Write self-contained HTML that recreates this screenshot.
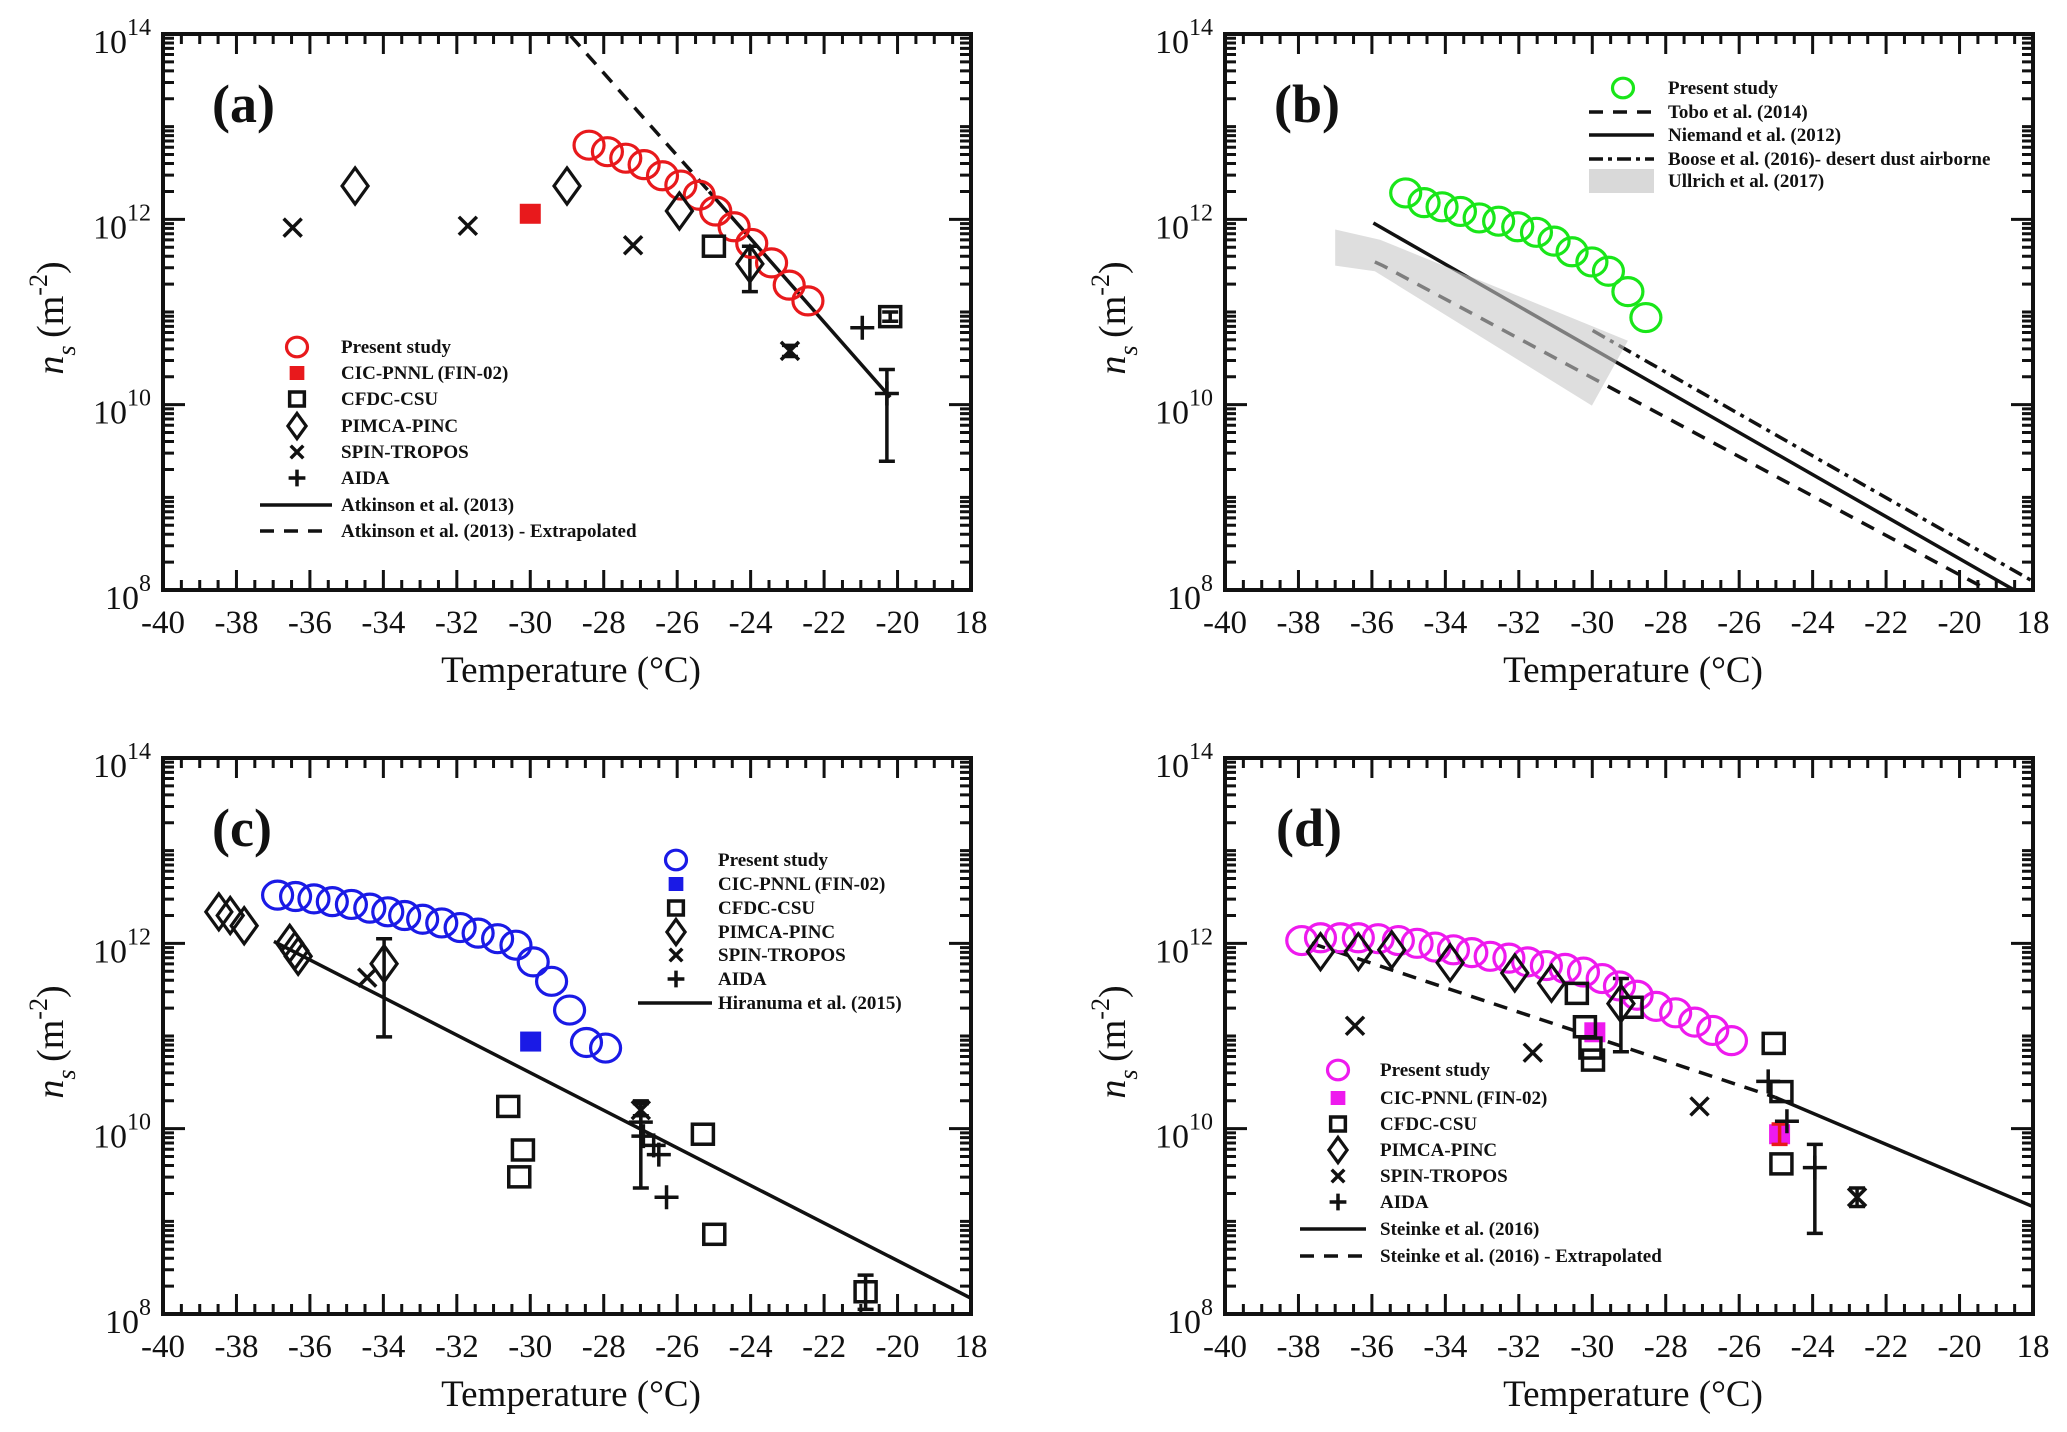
<!DOCTYPE html>
<html><head><meta charset="utf-8"><style>
html,body{margin:0;padding:0;background:#fff;}
svg{display:block;font-family:"Liberation Serif",serif;}
</style></head><body>
<svg id="fig" width="2067" height="1432" viewBox="0 0 2067 1432" xmlns="http://www.w3.org/2000/svg"></svg>
<script>
// ---------- data (temperatures in °C, values as log10(ns / m^-2)) ----------
const xTicks=[-40,-38,-36,-34,-32,-30,-28,-26,-24,-22,-20,-18];
const xTickLabels=["-40","-38","-36","-34","-32","-30","-28","-26","-24","-22","-20","18"];
const yTicks=[8,10,12,14];

// Panel a
const aPresentT=[-28.4,-27.9,-27.4,-26.9,-26.4,-25.9,-25.4,-24.95,-24.45,-23.97,-23.43,-22.95,-22.44];
const aPresentN=[12.80,12.73,12.66,12.59,12.47,12.37,12.26,12.09,11.92,11.74,11.53,11.29,11.12];
const aCicT=[-30.0]; const aCicN=[12.06];
const aCfdcT=[-25.0,-20.2]; const aCfdcN=[11.71,10.95];
const aPimcaT=[-34.77,-29.0,-25.94,-24.02]; const aPimcaN=[12.36,12.36,12.09,11.52];
const aSpinT=[-36.47,-31.7,-27.2,-22.93]; const aSpinN=[11.91,11.93,11.72,10.58];
const aAidaT=[-20.96,-20.29]; const aAidaN=[10.83,10.12];
const aErrT=[-24.02,-20.29,-22.93,-20.2,-30.0]; const aErrLo=[11.22,9.39,10.52,10.90,12.0]; const aErrHi=[11.71,10.38,10.64,11.0,12.1];
const aAtkT=[-25.13,-20.2]; const aAtkN=[12.30,10.08];
const aAtkExtT=[-28.9,-25.13]; const aAtkExtN=[13.98,12.30];

// Panel b
const bPresentT=[-35.08,-34.58,-34.09,-33.59,-33.08,-32.55,-32.03,-31.52,-31.04,-30.55,-30.01,-29.56,-29.03,-28.54];
const bPresentN=[12.285,12.18,12.135,12.085,12.015,11.98,11.92,11.86,11.765,11.65,11.54,11.44,11.22,10.94];
const bToboT=[-35.92,-35.7,-19.18,-17.5]; const bToboN=[11.54,11.50,7.99,7.63];
const bNiemandT=[-35.96,-17.5]; const bNiemandN=[11.96,7.77];
const bBooseT=[-29.99,-17.5]; const bBooseN=[10.80,7.98];
const bUllrichT=[-37.0,-35.78,-29.03,-30.01,-35.92,-37.0]; const bUllrichN=[11.89,11.78,10.69,9.99,11.44,11.50];

// Panel c
const cPresentT=[-36.88,-36.39,-35.89,-35.39,-34.87,-34.37,-33.88,-33.42,-32.93,-32.41,-31.91,-31.42,-30.89,-30.39,-29.92,-29.42,-28.93,-28.47,-27.95];
const cPresentN=[12.52,12.505,12.48,12.45,12.42,12.38,12.34,12.30,12.26,12.22,12.17,12.11,12.05,11.98,11.80,11.59,11.28,10.93,10.87];
const cCicT=[-29.99]; const cCicN=[10.94];
const cCfdcT=[-30.6,-30.2,-30.3,-25.3,-24.99,-20.87]; const cCfdcN=[10.24,9.77,9.48,9.94,8.86,8.24];
const cPimcaT=[-38.48,-38.17,-37.79,-36.55,-36.41,-36.32,-33.98]; const cPimcaN=[12.34,12.30,12.19,12.0,11.92,11.86,11.78];
const cSpinT=[-34.44,-26.99]; const cSpinN=[11.63,10.20];
const cAidaT=[-26.99,-26.92,-26.64,-26.5,-26.29]; const cAidaN=[10.07,9.92,9.82,9.72,9.26];
const cErrT=[-33.98,-26.99,-26.99,-20.87]; const cErrLo=[10.99,9.36,10.14,8.05]; const cErrHi=[12.05,10.30,10.27,8.42];
const cHiraT=[-36.98,-17.95]; const cHiraN=[12.02,8.16];

// Panel d
const dPresentT=[-37.91,-37.40,-36.86,-36.37,-35.83,-35.28,-34.77,-34.28,-33.78,-33.28,-32.78,-32.27,-31.76,-31.25,-30.74,-30.24,-29.73,-29.26,-28.78,-28.26,-27.73,-27.21,-26.72,-26.21];
const dPresentN=[12.03,12.06,12.06,12.06,12.05,12.03,12.0,11.96,11.93,11.90,11.86,11.84,11.80,11.76,11.73,11.69,11.62,11.54,11.44,11.32,11.25,11.15,11.06,10.95];
const dCicT=[-29.93,-24.9]; const dCicN=[11.04,9.94];
const dCfdcT=[-30.42,-30.2,-30.05,-29.98,-28.93,-25.06,-24.85,-24.85]; const dCfdcN=[11.46,11.10,10.87,10.74,11.31,10.92,10.40,9.62];
const dPimcaT=[-37.40,-36.37,-35.46,-33.87,-32.11,-31.11,-29.22]; const dPimcaN=[11.91,11.91,11.93,11.79,11.68,11.57,11.35];
const dSpinT=[-36.46,-31.62,-27.08,-22.79]; const dSpinN=[11.11,10.82,10.24,9.26];
const dAidaT=[-25.21,-24.70,-23.94]; const dAidaN=[10.51,10.08,9.58];
const dErrT=[-29.22,-23.94,-22.79]; const dErrLo=[10.83,8.87,9.16]; const dErrHi=[11.62,9.83,9.36];
const dRedErrT=[-24.9]; const dRedErrLo=[9.83]; const dRedErrHi=[10.05];
const dSteinkeT=[-25.03,-17.95]; const dSteinkeN=[10.34,9.15];
const dSteinkeExtT=[-37.64,-25.03]; const dSteinkeExtN=[12.0,10.34];

// ---------- drawing ----------
const NS="http://www.w3.org/2000/svg";
const svg=document.getElementById('fig');
const W=808,H=556;
function el(tag,attrs,parent){const e=document.createElementNS(NS,tag);for(const k in attrs)e.setAttribute(k,attrs[k]);(parent||svg).appendChild(e);return e;}
function makeScales(x0,y0){return {sx:t=>x0+(t+40)/22*W, sy:l=>y0+(14-l)/6*H, x0:x0,y0:y0};}

function drawAxes(P,g,letter,lx){
  const {x0,y0,sx,sy}=P;
  let d='';
  for(let t=-40;t<=-18.001;t+=0.5){
    const x=sx(t); if(t===-40) continue;
    const major=Math.abs(t-Math.round(t))<1e-6 && Math.round(t)%2===0;
    const L=major?20:10;
    d+=`M${x},${y0+H}v${-L}M${x},${y0}v${L}`;
  }
  for(let dec=8;dec<14;dec++){
    for(let k=1;k<=9;k++){
      const l=dec+Math.log10(k); const y=sy(l);
      if(k===1 && dec===8) continue;
      const L=(k===1 && dec%2===0)?22:11;
      d+=`M${x0},${y}h${L}M${x0+W},${y}h${-L}`;
    }
  }
  const tk=el('path',{d:d,stroke:'#111','stroke-width':3,fill:'none'},g);
  
  
  const fr=el('rect',{x:x0,y:y0,width:W,height:H,fill:'none',stroke:'#111','stroke-width':4},g);
  
  
  xTicks.forEach((t,i)=>{
    const tx=el('text',{x:sx(t),y:y0+H+43,'font-size':33,'text-anchor':'middle',fill:'#111'},g);
    tx.textContent=xTickLabels[i];
    
    
  });
  yTicks.forEach(v=>{
    const y=sy(v);
    const tx=el('text',{x:x0-12,y:y+19,'font-size':34,'text-anchor':'end',fill:'#111'},g);
    const a=el('tspan',{},tx); a.textContent='10';
    const b=el('tspan',{'font-size':24,dy:-18}, tx); b.textContent=String(v);
    
    
  });
  const xl=el('text',{x:x0+W/2+4,y:y0+H+92,'font-size':37,'text-anchor':'middle',fill:'#111'},g);
  xl.textContent='Temperature (°C)';
  
  
  const yc=y0+H/2+6, xc=x0-100;
  const yl=el('text',{x:0,y:0,'font-size':38,'text-anchor':'middle',fill:'#111',transform:`translate(${xc},${yc}) rotate(-90)`},g);
  const n=el('tspan',{'font-style':'italic'},yl); n.textContent='n';
  const s=el('tspan',{'font-style':'italic','font-size':26,dy:12},yl); s.textContent='s';
  const m=el('tspan',{dy:-12},yl); m.textContent='\u2009(m';
  const e=el('tspan',{'font-size':26,dy:-16},yl); e.textContent='-2';
  const c=el('tspan',{dy:16},yl); c.textContent=')';
  
  
  const pl=el('text',{x:lx,y:y0+88,'font-size':54,'font-weight':'bold',fill:'#111'},g);
  pl.textContent=letter;
  
  
}

function line(g,P,T,N,style,color,name){
  const pts=T.map((t,i)=>`${P.sx(t)},${P.sy(N[i])}`).join(' ');
  const a={points:pts,fill:'none',stroke:color||'#111','stroke-width':3.5};
  if(style==='dash')a['stroke-dasharray']='14,10';
  if(style==='dashdot')a['stroke-dasharray']='14,6,4,6';
  const p=el('polyline',a,g);
  
  
  return p;
}
let MS=1;
function mCircle(g,x,y,c){return el('ellipse',{cx:x,cy:y,rx:15*MS,ry:14*MS,fill:'none',stroke:c,'stroke-width':3.2},g);}
function mSquare(g,x,y,c,filled){return el('rect',{x:x-10.5*MS,y:y-10*MS,width:21*MS,height:20*MS,fill:filled?c:'none',stroke:filled?c:'#111','stroke-width':filled?0:3.5},g);}
function mDiamond(g,x,y){return el('polygon',{points:`${x},${y-18*MS} ${x+13*MS},${y} ${x},${y+18*MS} ${x-13*MS},${y}`,fill:'none',stroke:'#111','stroke-width':3.2},g);}
function mX(g,x,y){const k=9*MS;return el('path',{d:`M${x-k},${y-k}L${x+k},${y+k}M${x+k},${y-k}L${x-k},${y+k}`,stroke:'#111','stroke-width':3.5},g);}
function mPlus(g,x,y){const k=12*MS;return el('path',{d:`M${x-k},${y}H${x+k}M${x},${y-k}V${y+k}`,stroke:'#111','stroke-width':3.5},g);}

function scatter(g,P,T,N,kind,color,name){
  T.forEach((t,i)=>{
    const x=P.sx(t),y=P.sy(N[i]);let m;
    if(kind==='circle')m=mCircle(g,x,y,color);
    else if(kind==='fsq')m=mSquare(g,x,y,color,true);
    else if(kind==='sq')m=mSquare(g,x,y,color,false);
    else if(kind==='dia')m=mDiamond(g,x,y);
    else if(kind==='x')m=mX(g,x,y);
    else m=mPlus(g,x,y);
    
    
  });
}
function errbars(g,P,T,Lo,Hi,color){
  T.forEach((t,i)=>{
    const x=P.sx(t),y1=P.sy(Lo[i]),y2=P.sy(Hi[i]);
    const e=el('path',{d:`M${x},${y1}V${y2}M${x-8},${y1}h16M${x-8},${y2}h16`,stroke:color||'#111','stroke-width':3.5,fill:'none'},g);
    
    
  });
}
function legend(g,x0,xt,rows,entries){
  MS=0.7;
  entries.forEach((en,i)=>{
    const y=rows[i];
    const lg=el('g',{},g);
    
    
    const kind=en[0];
    if(kind==='line'||kind==='dash'||kind==='dashdot'){
      const a={x1:en[2],x2:en[3],y1:y,y2:y,stroke:'#111','stroke-width':3.5};
      if(kind==='dash')a['stroke-dasharray']='14,10';
      if(kind==='dashdot')a['stroke-dasharray']='14,5,4,5';
      el('line',a,lg);
    } else if(kind==='shade'){
      el('rect',{x:en[2],y:y-12,width:en[3]-en[2],height:24,fill:'#d9d9d9'},lg);
    } else {
      scatter(lg,{sx:()=>x0,sy:()=>y},[0],[0],kind,en[2],'legend-marker');
    }
    const t=el('text',{x:xt,y:y+6,'font-size':19,'font-weight':'bold',fill:'#111'},lg);
    t.textContent=en[1];
  });
  MS=1;
}
function panel(name,x0,y0){
  const g=el('g',{});
  
  
  const P=makeScales(x0,y0);
  const cp=el('clipPath',{id:'clip-'+name},g);
  el('rect',{x:x0,y:y0,width:W,height:H},cp);
  const inner=el('g',{'clip-path':`url(#clip-${name})`},g);
  
  
  return {g,P,inner};
}

// Panel a
{
  const {g,P,inner}=panel('panel-a',163,34);
  line(inner,P,aAtkExtT,aAtkExtN,'dash','#111','atkinson-extrapolated-line');
  line(inner,P,aAtkT,aAtkN,'solid','#111','atkinson-line');
  errbars(inner,P,aErrT,aErrLo,aErrHi);
  scatter(inner,P,aPresentT,aPresentN,'circle','#e8191c','present-study-point');
  scatter(inner,P,aCicT,aCicN,'fsq','#e8191c','cic-pnnl-point');
  scatter(inner,P,aCfdcT,aCfdcN,'sq','#111','cfdc-csu-point');
  scatter(inner,P,aPimcaT,aPimcaN,'dia','#111','pimca-pinc-point');
  scatter(inner,P,aSpinT,aSpinN,'x','#111','spin-tropos-point');
  scatter(inner,P,aAidaT,aAidaN,'plus','#111','aida-point');
  legend(g,297,341,[347,373,399,426,452,478,505,531],[
    ['circle','Present study','#e8191c'],['fsq','CIC-PNNL (FIN-02)','#e8191c'],['sq','CFDC-CSU','#111'],
    ['dia','PIMCA-PINC'],['x','SPIN-TROPOS'],['plus','AIDA'],
    ['line','Atkinson et al. (2013)',260,332],['dash','Atkinson et al. (2013)  - Extrapolated',260,332]]);
  drawAxes(P,g,'(a)',212);
}
// Panel b
{
  const {g,P,inner}=panel('panel-b',1225,34);
  line(inner,P,bToboT,bToboN,'dash','#111','tobo-line');
  line(inner,P,bNiemandT,bNiemandN,'solid','#111','niemand-line');
  line(inner,P,bBooseT,bBooseN,'dashdot','#111','boose-line');
  const pts=bUllrichT.map((t,i)=>`${P.sx(t)},${P.sy(bUllrichN[i])}`).join(' ');
  const sh=el('polygon',{points:pts,fill:'#c8c8c8','fill-opacity':0.6,stroke:'none'},inner);
  
  
  scatter(inner,P,bPresentT,bPresentN,'circle','#19e619','present-study-point');
  legend(g,1623,1668,[88,112,135,159,181],[
    ['circle','Present study','#19e619'],['dash','Tobo et al. (2014)',1589,1654],['line','Niemand et al. (2012)',1589,1654],
    ['dashdot','Boose et al. (2016)- desert dust airborne',1589,1654],['shade','Ullrich et al. (2017)',1589,1654]]);
  drawAxes(P,g,'(b)',1274);
}
// Panel c
{
  const {g,P,inner}=panel('panel-c',163,758);
  line(inner,P,cHiraT,cHiraN,'solid','#111','hiranuma-line');
  errbars(inner,P,cErrT,cErrLo,cErrHi);
  scatter(inner,P,cPresentT,cPresentN,'circle','#1a1ae6','present-study-point');
  scatter(inner,P,cCicT,cCicN,'fsq','#1a1ae6','cic-pnnl-point');
  scatter(inner,P,cCfdcT,cCfdcN,'sq','#111','cfdc-csu-point');
  scatter(inner,P,cPimcaT,cPimcaN,'dia','#111','pimca-pinc-point');
  scatter(inner,P,cSpinT,cSpinN,'x','#111','spin-tropos-point');
  scatter(inner,P,cAidaT,cAidaN,'plus','#111','aida-point');
  legend(g,676,718,[860,884,908,932,955,979,1003],[
    ['circle','Present study','#1a1ae6'],['fsq','CIC-PNNL (FIN-02)','#1a1ae6'],['sq','CFDC-CSU','#111'],
    ['dia','PIMCA-PINC'],['x','SPIN-TROPOS'],['plus','AIDA'],['line','Hiranuma et al. (2015)',638,712]]);
  drawAxes(P,g,'(c)',212);
}
// Panel d
{
  const {g,P,inner}=panel('panel-d',1225,758);
  line(inner,P,dSteinkeExtT,dSteinkeExtN,'dash','#111','steinke-extrapolated-line');
  line(inner,P,dSteinkeT,dSteinkeN,'solid','#111','steinke-line');
  errbars(inner,P,dErrT,dErrLo,dErrHi);
  scatter(inner,P,dPresentT,dPresentN,'circle','#ee1aee','present-study-point');
  scatter(inner,P,dCicT,dCicN,'fsq','#ee1aee','cic-pnnl-point');
  errbars(inner,P,dRedErrT,dRedErrLo,dRedErrHi,'#e8191c');
  scatter(inner,P,dCfdcT,dCfdcN,'sq','#111','cfdc-csu-point');
  scatter(inner,P,dPimcaT,dPimcaN,'dia','#111','pimca-pinc-point');
  scatter(inner,P,dSpinT,dSpinN,'x','#111','spin-tropos-point');
  scatter(inner,P,dAidaT,dAidaN,'plus','#111','aida-point');
  legend(g,1338,1380,[1070,1098,1124,1150,1176,1202,1229,1256],[
    ['circle','Present study','#ee1aee'],['fsq','CIC-PNNL (FIN-02)','#ee1aee'],['sq','CFDC-CSU','#111'],
    ['dia','PIMCA-PINC'],['x','SPIN-TROPOS'],['plus','AIDA'],
    ['line','Steinke et al. (2016)',1300,1366],['dash','Steinke et al. (2016) - Extrapolated',1300,1366]]);
  drawAxes(P,g,'(d)',1276);
}
</script>
</body></html>
